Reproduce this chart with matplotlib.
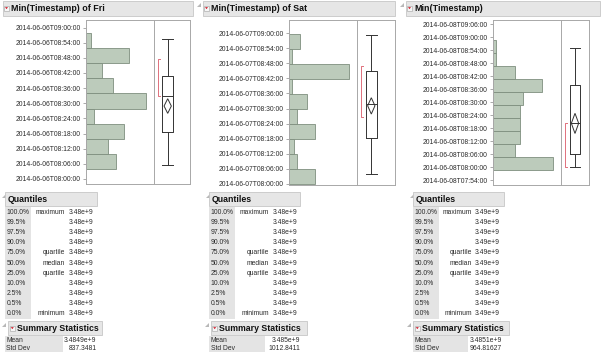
import matplotlib
matplotlib.use("Agg")
import matplotlib.pyplot as plt
from matplotlib.patches import Rectangle, Polygon
from matplotlib.ticker import FuncFormatter, MultipleLocator

plt.rcParams['font.family'] = ['Liberation Sans', 'DejaVu Sans']

# ---- data (times are minutes after 08:00 of each day) ----
titles = ["Min(Timestamp) of Fri", "Min(Timestamp) of Sat", "Min(Timestamp)"]
dates = ["2014-06-06", "2014-06-07", "2014-06-08"]
bin_start = [3.9, -0.2, -1.5]
bin_width = 6
fri_counts = [11, 8, 14, 3, 22, 10, 6, 16, 2]
sat_counts = [10, 3, 2, 10, 3, 7, 1, 23, 1, 4]
sun_counts = [22, 8, 10, 10, 10, 11, 18, 8, 1, 1]
# whislo, q1, median, q3, whishi
fri_box = [5.5, 18.6, 32.8, 41.0, 55.4]
sat_box = [3.9, 18.4, 31.7, 45.0, 59.3]
sun_box = [0.0, 5.9, 20.2, 37.7, 55.1]
# lower ci, mean, upper ci
fri_mean = [26.0, 28.9, 31.8]
sat_mean = [27.8, 31.1, 34.3]
sun_mean = [15.5, 20.2, 24.8]
fri_short = [32.8, 47.4]
sat_short = [26.5, 47.1]
sun_short = [0.0, 20.2]
tick_lo = [0, 0, -6]
tick_hi = [60, 60, 66]

quant_pct = ["100.0%", "99.5%", "97.5%", "90.0%", "75.0%", "50.0%",
             "25.0%", "10.0%", "2.5%", "0.5%", "0.0%"]
quant_lbl = ["maximum", "", "", "", "quartile", "median", "quartile",
             "", "", "", "minimum"]
fri_quant = ["3.48e+9"] * 11
sat_quant = ["3.48e+9"] * 11
sun_quant = ["3.49e+9"] * 11
stat_names = ["Mean", "Std Dev"]
fri_stats = ["3.4849e+9", "837.3481"]
sat_stats = ["3.485e+9", "1012.8411"]
sun_stats = ["3.4851e+9", "964.81627"]

counts = [fri_counts, sat_counts, sun_counts]
boxes = [fri_box, sat_box, sun_box]
means = [fri_mean, sat_mean, sun_mean]
shorts = [fri_short, sat_short, sun_short]
quants = [fri_quant, sat_quant, sun_quant]
stats = [fri_stats, sat_stats, sun_stats]

# ---- layout (pixels) ----
W, H = 601, 352
hist_x = [(86, 154), (289.3, 357.3), (493.3, 561.3)]
box_x = [(154, 190), (357.3, 395), (561.3, 588.7)]
plot_y = [(20, 184), (20, 185), (20, 185)]
y_lims = [(-2.0, 63.0), (-0.5, 65.3), (-8.3, 67.9)]
hdr_x = [(3, 193), (203, 395), (406, 600)]
box_c = [167.7, 371.3, 575.0]
red_x = [157.7, 361.0, 564.7]
q_left = [5, 209.3, 413.3]
q_lbl_r = [65, 269, 471.7]
q_val_r = [93.3, 297.3, 500]
q_hdr_w = [92, 91, 91]
s_hdr = [(8.3, 101.7), (210.7, 306.7), (413.3, 509.3)]
s_col_r = [63, 265, 468]
s_val_r = [96.7, 300, 501.7]

TXT = '#2b2b2b'
FRAME = '#a8a8a8'
HDR = '#e6e6e6'
HDR_EDGE = '#c6c6c6'
GREYCOL = '#e4e4e4'

fig = plt.figure(figsize=(W / 100, H / 100), dpi=100)
fig.patch.set_facecolor('white')
bg = fig.add_axes([0, 0, 1, 1])
bg.set_xlim(0, W)
bg.set_ylim(H, 0)
bg.axis('off')


def px_axes(x0, x1, y0, y1):
    return fig.add_axes([x0 / W, 1 - y1 / H, (x1 - x0) / W, (y1 - y0) / H])


def disclosure(x, y):
    bg.add_patch(Polygon([(x, y + 4), (x + 4, y + 4), (x + 4, y)],
                         closed=True, fc='#b8b8b8', ec='none'))


def red_icon(x, y):
    bg.add_patch(Rectangle((x, y), 5, 5, fc='#f6f6f6', ec='#b0b0b0', lw=0.5))
    bg.add_patch(Polygon([(x + 1, y + 1.7), (x + 4, y + 1.7), (x + 2.5, y + 3.6)],
                         closed=True, fc='#d01020', ec='none'))


def header(x0, x1, y0, y1):
    bg.add_patch(Rectangle((x0, y0), x1 - x0, y1 - y0, fc=HDR, ec=HDR_EDGE, lw=0.6))


for i in range(3):
    day = dates[i]

    # title bar
    header(hdr_x[i][0], hdr_x[i][1], 0.5, 15.5)
    red_icon(hdr_x[i][0] + 1, 5.5)
    bg.text(hdr_x[i][0] + 8, 8.5, titles[i], fontsize=6.4, fontweight='bold',
            color='#111111', va='center', ha='left')
    if i > 0:
        disclosure(hdr_x[i][0] - 6, 3)

    # histogram
    ax = px_axes(hist_x[i][0], hist_x[i][1], plot_y[i][0], plot_y[i][1])
    edges = [bin_start[i] + bin_width * k for k in range(len(counts[i]))]
    ax.barh(edges, counts[i], height=bin_width, align='edge',
            color='#bccbbb', edgecolor='#7e8e7e', linewidth=0.6)
    ax.set_xlim(0, max(counts[i]) * 1.14)
    ax.set_ylim(*y_lims[i])
    ax.yaxis.set_major_locator(MultipleLocator(6))
    ax.yaxis.set_major_formatter(FuncFormatter(
        lambda v, p, d=day: "%sT%02d:%02d:00" % (d, 8 + int(v // 60), int(v % 60))))
    ax.set_yticks([t for t in range(tick_lo[i], tick_hi[i] + 1, 6)])
    ax.set_xticks([])
    ax.tick_params(axis='y', length=2.2, width=0.5, color='#888888', pad=1.8,
                   labelsize=4.9, labelcolor=TXT)
    for s in ax.spines.values():
        s.set_color(FRAME)
        s.set_linewidth(0.7)

    # box plot
    bx = px_axes(box_x[i][0], box_x[i][1], plot_y[i][0], plot_y[i][1])
    span = box_x[i][1] - box_x[i][0]
    c = (box_c[i] - box_x[i][0]) / span
    w = 10.7 / span
    b = boxes[i]
    line = dict(color='#333333', linewidth=0.7)
    bx.bxp([dict(whislo=b[0], q1=b[1], med=b[2], q3=b[3], whishi=b[4], fliers=[])],
           positions=[c], widths=w, capwidths=w, showfliers=False,
           boxprops=line, whiskerprops=line, capprops=line, medianprops=line)
    m = means[i]
    dw = 7.3 / span / 2
    bx.add_patch(Polygon([(c, m[0]), (c + dw, m[1]), (c, m[2]), (c - dw, m[1])],
                         closed=True, fc='none', ec='#333333', lw=0.7))
    rx = (red_x[i] - box_x[i][0]) / span
    tk = 2.2 / span
    sh = shorts[i]
    bx.plot([rx + tk, rx, rx, rx + tk], [sh[0], sh[0], sh[1], sh[1]],
            color='#e0707c', lw=0.7)
    bx.set_xlim(0, 1)
    bx.set_ylim(*y_lims[i])
    bx.set_xticks([])
    bx.set_yticks([])
    for s in bx.spines.values():
        s.set_color(FRAME)
        s.set_linewidth(0.7)

    # quantiles table
    xl = q_left[i]
    disclosure(xl - 3, 194)
    header(xl, xl + q_hdr_w[i], 192.3, 205.7)
    bg.text(xl + 2.5, 199.3, "Quantiles", fontsize=6.3, fontweight='bold',
            color='#111111', va='center', ha='left')
    bg.add_patch(Rectangle((xl, 207), 25.5, 112, fc=GREYCOL, ec='none'))
    for r in range(len(quant_pct)):
        y = 212.6 + 10.1 * r
        bg.text(xl + 1.5, y, quant_pct[r], fontsize=4.9, color=TXT, va='center')
        bg.text(q_lbl_r[i], y, quant_lbl[r], fontsize=4.9, color=TXT,
                va='center', ha='right')
        bg.text(q_val_r[i], y, quants[i][r], fontsize=4.9, color=TXT,
                va='center', ha='right')

    # summary statistics
    sx0, sx1 = s_hdr[i]
    disclosure(sx0 - 6, 323)
    header(sx0, sx1, 321, 335)
    red_icon(sx0 + 1.5, 325.5)
    bg.text(sx0 + 8.5, 328.3, "Summary Statistics", fontsize=6.3,
            fontweight='bold', color='#111111', va='center', ha='left')
    bg.add_patch(Rectangle((xl, 336), s_col_r[i] - xl, 20, fc=GREYCOL, ec='none'))
    for r in range(len(stat_names)):
        y = 340.2 + 7.8 * r
        bg.text(xl + 1.5, y, stat_names[r], fontsize=4.9, color=TXT, va='center')
        bg.text(s_val_r[i], y, stats[i][r], fontsize=4.9, color=TXT,
                va='center', ha='right')

fig.savefig("out.png", dpi=100)
